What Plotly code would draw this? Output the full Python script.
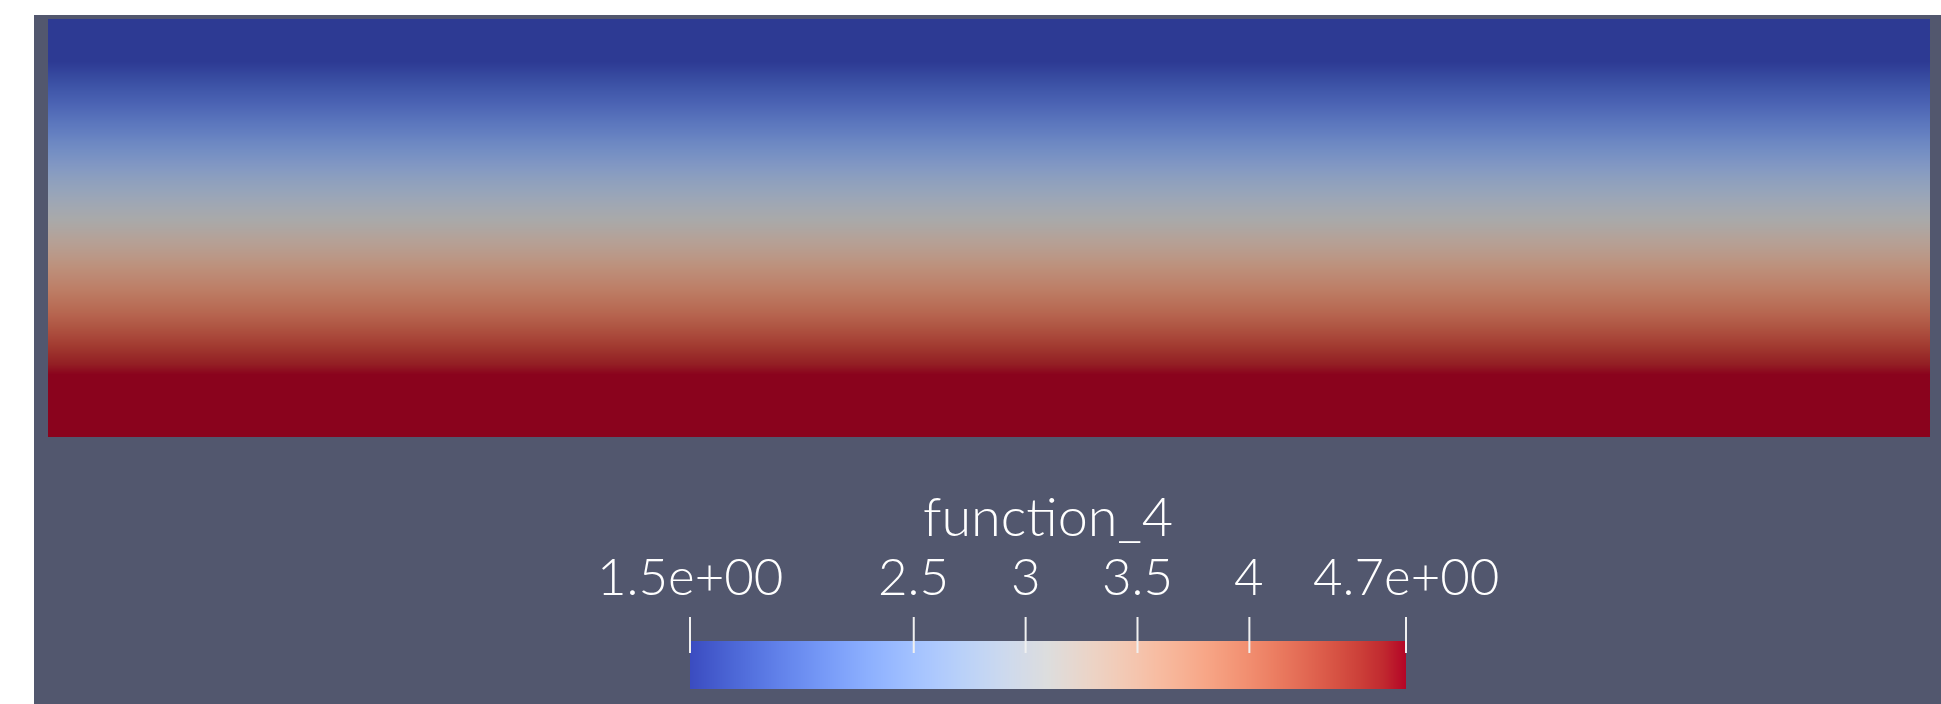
import plotly.graph_objects as go

# ---- data ----
field_depth = [0.00, 0.10, 0.20, 0.30, 0.40, 0.50, 0.60, 0.70, 0.80, 0.85, 1.00]
field_value = [1.50, 1.50, 1.90, 2.33, 2.78, 3.18, 3.62, 4.05, 4.50, 4.70, 4.70]
field_x = [0.0, 1.0]

value_min = 1.5
value_max = 4.7
tick_values = [1.5, 2.5, 3.0, 3.5, 4.0, 4.7]
tick_labels = ["1.5e+00", "2.5", "3", "3.5", "4", "4.7e+00"]
bar_title = "function_4"

# ---- style ----
W, H = 1941, 704
cool_warm = [
    (59, 76, 192), (68, 90, 204), (77, 104, 215), (87, 117, 225), (98, 130, 234),
    (108, 142, 241), (119, 154, 247), (130, 165, 251), (141, 176, 254), (152, 185, 255),
    (163, 194, 255), (174, 201, 253), (184, 208, 249), (194, 213, 244), (204, 217, 238),
    (213, 219, 230), (221, 221, 221), (229, 216, 209), (236, 211, 197), (241, 204, 185),
    (245, 196, 173), (247, 187, 160), (247, 177, 148), (247, 166, 135), (244, 154, 123),
    (241, 141, 111), (236, 127, 99), (229, 112, 88), (222, 96, 77), (213, 80, 66),
    (203, 62, 56), (192, 40, 47), (180, 4, 38),
]
n = len(cool_warm) - 1
bar_scale = [[i / n, "rgb(%d,%d,%d)" % c] for i, c in enumerate(cool_warm)]
shade = 0.765
field_scale = [[i / n, "rgb(%d,%d,%d)" % tuple(round(v * shade) for v in c)]
               for i, c in enumerate(cool_warm)]

bg = "#52576e"
font = dict(family="Lato", size=51, color="#ffffff", weight=300)
title_font = dict(family="Lato", size=54, color="#ffffff", weight=300)

def px_x(p):
    return p / W

def px_y(p):
    return 1 - p / H

fig = go.Figure()

# field
fig.add_trace(go.Heatmap(
    x=field_x, y=field_depth,
    z=[[v, v] for v in field_value],
    colorscale=field_scale, zmin=value_min, zmax=value_max,
    zsmooth="best", showscale=False, hoverinfo="skip",
    xaxis="x", yaxis="y",
))

# colour bar
fig.add_trace(go.Heatmap(
    x=[value_min, value_max], y0=0.5, dy=1,
    z=[[value_min, value_max]],
    colorscale=bar_scale, zmin=value_min, zmax=value_max,
    zsmooth="best", showscale=False, hoverinfo="skip",
    xaxis="x2", yaxis="y2",
))

bar_l, bar_r = 690, 1406
pad = 4
upx = (value_max - value_min) / (bar_r - bar_l)

hidden = dict(visible=False, showgrid=False, zeroline=False, fixedrange=True)
fig.update_layout(
    width=W, height=H,
    margin=dict(l=0, r=0, t=0, b=0),
    paper_bgcolor="#ffffff", plot_bgcolor="rgba(0,0,0,0)",
    showlegend=False,
    xaxis=dict(domain=[px_x(48), px_x(1930)], range=[0, 1], **hidden),
    yaxis=dict(domain=[px_y(437), px_y(19)], range=[1, 0], **hidden),
    xaxis2=dict(domain=[px_x(bar_l), px_x(bar_r)], range=[value_min, value_max], anchor="y2", **hidden),
    yaxis2=dict(domain=[px_y(689), px_y(617)], range=[0, 1.5], anchor="x2", **hidden),
    xaxis3=dict(domain=[px_x(bar_l - pad), px_x(bar_r + pad)],
                range=[value_min - pad * upx, value_max + pad * upx], anchor="y2", **hidden),
)

shapes = [dict(type="rect", xref="paper", yref="paper", x0=px_x(34), x1=1, y0=0, y1=px_y(15),
               fillcolor=bg, line=dict(width=0), layer="below")]
for t in tick_values:
    shapes.append(dict(type="line", xref="x3", yref="y2", x0=t, x1=t, y0=0.75, y1=1.5,
                       line=dict(color="#f0f0f0", width=2), layer="above"))
fig.update_layout(shapes=shapes)

annotations = []
for t, lab in zip(tick_values, tick_labels):
    annotations.append(dict(x=t, xref="x2", y=px_y(575), yref="paper", text=lab,
                            showarrow=False, xanchor="center", yanchor="middle", font=font))
annotations.append(dict(x=0.5, xref="x2 domain", y=px_y(515), yref="paper", text=bar_title,
                        showarrow=False, xanchor="center", yanchor="middle", font=title_font))
fig.update_layout(annotations=annotations)

fig.write_html("out.html", config={"displayModeBar": False})

# remove default page margins so the figure fills the window exactly
with open("out.html", "r", encoding="utf-8") as f:
    html = f.read()
html = html.replace("<head>", "<head><style>html,body{margin:0;padding:0;overflow:hidden;}</style>", 1)
with open("out.html", "w", encoding="utf-8") as f:
    f.write(html)
